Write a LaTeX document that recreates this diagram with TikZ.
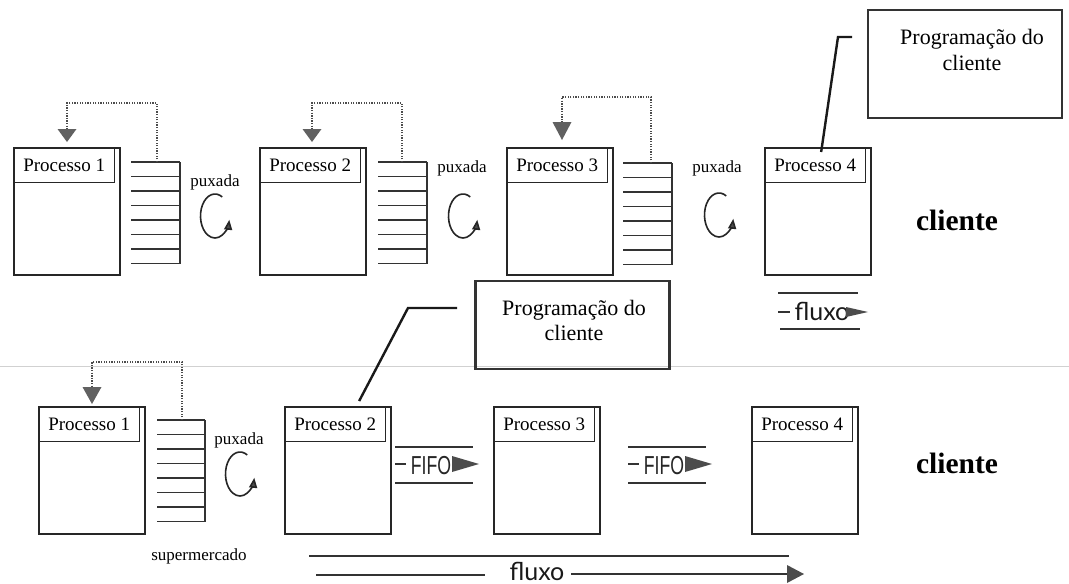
\documentclass[tikz,border=0pt]{standalone}
\usepackage{fontspec}
\setmainfont{Liberation Serif}
\newfontfamily\fluxofont{Lato}
\newfontfamily\fifofont{Liberation Sans}
\usetikzlibrary{arrows.meta,calc}

% a supermarket / FIFO shelf: eight rungs and a back post
\newcommand\stockpile[5]{% name, left x, right x, top y, x of the kanban line
  \foreach \i in {0,...,7}{\draw[shelf] (#2,{#4+14.5*\i}) -- (#3,{#4+14.5*\i});}
  \draw[shelf] (#3,#4) -- (#3,{#4+101.5});
  \coordinate (#1) at (#5,#4);}
% kanban card: downward triangle, named by its top centre
\newcommand\kcard[4]{% name, centre x, top y, bottom y
  \fill[card] ({#2-9.5},#3) -- ({#2+9.5},#3) -- (#2,#4) -- cycle;
  \coordinate (#1) at (#2,#3);}
% pull loop
\newcommand\pullloop[3]{% name, centre x, centre y
  \coordinate (#1) at (#2,#3);
  \draw[pullarrow] ($(#1)+(-60:14.5 and 22)$) arc[start angle=-60,end angle=-350,x radius=14.5,y radius=22];}
% process box with its title band
\newcommand\process[4]{% name, left x, top y, label
  \node[procbox] (#1) at (#2,#3) {};
  \node[titlebox] (#1t) at (#1.north west) {#4};}
% FIFO lane between two processes
\newcommand\fifolane[2]{% name, left x
  \draw[flowline] (#2,447) -- ({#2+78},447);
  \draw[flowline] (#2,483) -- ({#2+78},483);
  \draw[flowline] (#2,464) -- ({#2+11},464);
  \node[fifotext,anchor=base] (#1) at ({#2+36},474) {\scalebox{0.68}[1]{FIFO}};
  \fill[head] ({#2+57},456) -- ({#2+84},464) -- ({#2+57},472) -- cycle;}

\begin{document}
\begin{tikzpicture}[x=1pt,y=-1pt,
  ink/.style={draw=black!85,line width=1.7pt},
  procbox/.style={ink,rectangle,minimum width=106pt,minimum height=127pt,inner sep=0pt,anchor=north west},
  titlebox/.style={draw=black!85,line width=1.3pt,rectangle,minimum width=101pt,minimum height=35pt,inner sep=0pt,anchor=north west,font=\fontsize{19}{22}\selectfont},
  shelf/.style={draw=black!80,line width=1.4pt},
  kanban/.style={draw=black!70,line width=1.3pt,dash pattern=on 1.3pt off 1.3pt},
  card/.style={fill=black!62},
  pullarrow/.style={draw=black!85,line width=1.6pt,-{Triangle[length=10pt,width=8pt,fill=black!70]}},
  smalltext/.style={font=\fontsize{17}{20}\selectfont},
  progbox/.style={draw=black!80,line width=2.4pt,rectangle,minimum width=194pt,inner sep=0pt},
  progtext/.style={align=center,font=\fontsize{22}{25.5}\selectfont},
  leader/.style={draw=black!90,line width=2.4pt},
  client/.style={font=\fontsize{29.5}{32}\selectfont\bfseries},
  flowline/.style={draw=black!80,line width=1.4pt},
  head/.style={fill=black!70},
  fifotext/.style={font=\fontsize{26}{28}\fifofont,inner sep=0pt,text=black!85},
  fluxotext/.style={font=\fontsize{25}{28}\fluxofont,inner sep=0pt,text=black!90},
]
\useasboundingbox (0,0) rectangle (1069,584);
\fill[white] (0,0) rectangle (1069,584);

% ---------- upper line: pull between every process ----------
\process{p1}{13}{147}{Processo 1}
\process{p2}{259}{147}{Processo 2}
\process{p3}{506}{147}{Processo 3}
\process{p4}{764}{147}{Processo 4}

\stockpile{s1}{131}{180}{162}{157}
\stockpile{s2}{378}{427}{162}{402}
\stockpile{s3}{623}{672}{163}{651}

\kcard{k1}{67}{129}{142}
\kcard{k2}{312}{129}{142}
\kcard{k3}{562}{122}{140}

\coordinate (c1) at (157,103);
\coordinate (c2) at (402,103);
\coordinate (c3) at (651,97);
\draw[kanban] (s1) -- (c1) -| (k1);
\draw[kanban] (s2) -- (c2) -| (k2);
\draw[kanban] (s3) -- (c3) -| (k3);

\node[smalltext] (u1) at (215,182) {puxada};
\node[smalltext] (u2) at (462,168) {puxada};
\node[smalltext] (u3) at (717,168) {puxada};
\pullloop{l1}{215}{216}
\pullloop{l2}{463}{216}
\pullloop{l3}{719}{215}

\node[client,anchor=base] (cl1) at (957,230) {cliente};

\node[progbox,minimum height=108pt] (prog1) at (965,64) {};
\node[progtext] (prog1t) at (972,50) {Programação do\\cliente};
\coordinate (lt0) at (852,37);
\coordinate (lt1) at (838,37);
\draw[leader] (lt0) -- (lt1) -- ([xshift=6pt,yshift=-5pt]p4t.north);

% short flow arrow under the last process
\draw[flowline] (778,293) -- (858,293);
\draw[flowline] (780,329) -- (860,329);
\draw[flowline] (778,312) -- (790,312);
\node[fluxotext,anchor=base] (fx1) at (822,320) {fluxo};
\fill[head] (846,307) -- (868,312) -- (846,317) -- cycle;

% divider between the two lines
\draw[black!18,line width=0.8pt] (0,366) -- (1069,366);

% ---------- lower line: one supermarket, then FIFO ----------
\process{q1}{38}{406}{Processo 1}
\process{q2}{284}{406}{Processo 2}
\process{q3}{493}{406}{Processo 3}
\process{q4}{751}{406}{Processo 4}

\stockpile{s4}{157}{205}{420}{182}
\kcard{k4}{92}{387}{404}
\coordinate (c4) at (182,362);
\draw[kanban] (s4) -- (c4) -| (k4);

\node[smalltext] (u4) at (239,440) {puxada};
\pullloop{l4}{240}{474}
\node[smalltext] (sm) at (199,556) {supermercado};

\fifolane{f1}{395}
\fifolane{f2}{628}

\node[client,anchor=base] (cl2) at (957,473) {cliente};

\node[progbox,minimum height=88pt] (prog2) at (572.5,325) {};
\node[progtext] (prog2t) at (574,320.5) {Programação do\\cliente};
\coordinate (lb0) at (457,308);
\coordinate (lb1) at (408,308);
\draw[leader] (lb0) -- (lb1) -- ([xshift=24pt,yshift=5pt]q2t.north);

% long flow arrow along the bottom
\draw[flowline] (309,556) -- (789,556);
\draw[flowline] (316,575) -- (485,575);
\node[fluxotext,anchor=base] (fx2) at (537,580) {fluxo};
\draw[flowline] (571,574) -- (787,574);
\fill[head] (787,565) -- (804,574) -- (787,583) -- cycle;
\end{tikzpicture}
\end{document}
